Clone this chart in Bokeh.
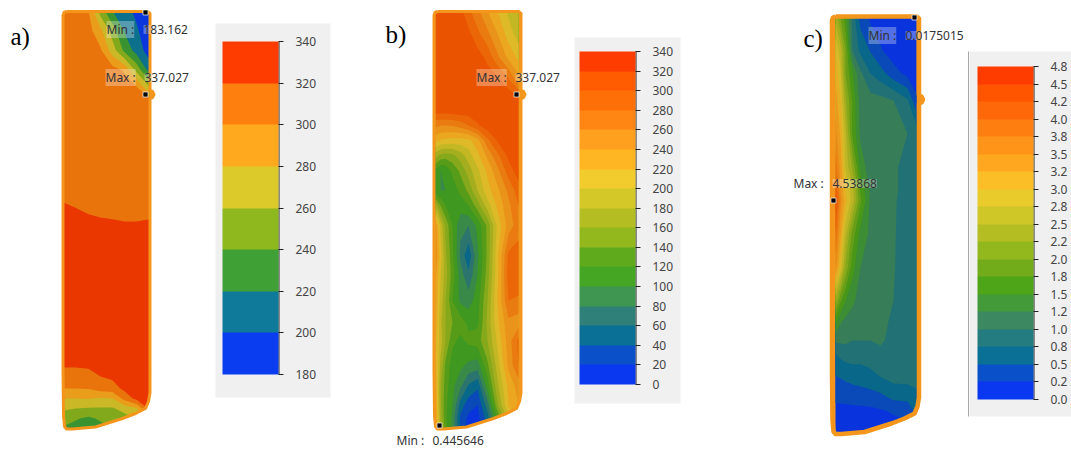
from bokeh.embed import file_html
from bokeh.resources import INLINE
from bokeh.plotting import figure
from bokeh.models import Range1d, ColorBar, LinearColorMapper, FixedTicker
from bokeh.core.properties import value
import numpy as np

# ---------- colour scales (low to high) ----------
PAL_A = ["#0A3CF0", "#0F7A9A", "#3FA035", "#8EB81E", "#DCC92A", "#FFAA1E", "#FF7F0E", "#FF3C00"]
PAL_B = ["#0A38F0", "#0A50C8", "#0A7095", "#2F8078", "#3F9650", "#45A623", "#5FAA1C", "#92B81E", "#B4BE22",
         "#D4C828", "#F2CB2C", "#FFB622", "#FFA01E", "#FF8612", "#FF6F08", "#FF5B00", "#FF3C00"]
PAL_C = ["#0A38F0", "#0A50C8", "#0A7095", "#257C80", "#3C8860", "#429A38", "#4FA518", "#72AC1A", "#92B81E",
         "#B4BE22", "#CFC628", "#EACB2C", "#FBBE26", "#FFA81F", "#FF9418", "#FF7E10", "#FF6808", "#FF5400", "#FF3C00"]

# ---------- colour bar ticks ----------
TICKS_A = [180, 200, 220, 240, 260, 280, 300, 320, 340]
TICKS_B = list(range(0, 341, 20))
TICKS_C = [0, .25, .5, .75, 1, 1.25, 1.5, 1.75, 2, 2.25, 2.5, 2.75, 3, 3.25, 3.5, 3.75, 4, 4.25, 4.5, 4.75]
TICK_LABELS_C = ["0.0", "0.2", "0.5", "0.8", "1.0", "1.2", "1.5", "1.8", "2.0", "2.2",
                 "2.5", "2.8", "3.0", "3.2", "3.5", "3.8", "4.0", "4.2", "4.5", "4.8"]

# ---------- panel a) field ----------
A_X = [62, 75, 88, 100, 112, 124, 136, 149]
A_Y = [10, 30, 50, 70, 88, 100, 199, 226, 240, 355, 366, 376, 388, 398, 408, 418, 431]
A_Z = [
    [310, 310, 300, 250, 220, 208, 195, 183],
    [310, 310, 307, 285, 250, 218, 203, 185],
    [310, 310, 310, 303, 270, 235, 212, 190],
    [310, 310, 310, 310, 309, 298, 255, 212],
    [310, 310, 310, 310, 310, 310, 306, 265],
    [310, 310, 310, 310, 310, 310, 310, 310],
    [319, 316, 314, 312, 312, 311, 311, 312],
    [330, 329, 325, 324, 323, 322, 322, 323],
    [330, 330, 330, 330, 330, 330, 330, 330],
    [330, 330, 330, 330, 330, 330, 330, 330],
    [321, 321, 322, 325, 327, 328, 329, 330],
    [311, 311, 313, 320, 324, 326, 328, 330],
    [300, 300, 301, 308, 311, 325, 328, 330],
    [280, 280, 281, 278, 280, 307, 326, 329],
    [263, 260, 258, 258, 258, 267, 278, 325],
    [249, 242, 236, 243, 248, 252, 260, 290],
    [235, 230, 228, 230, 238, 245, 250, 260],
]

# ---------- panel b) field ----------
B_X = [435, 440, 445, 452, 460, 468, 477, 487, 497, 508, 518]
B_Y = [10, 33, 57, 80, 95, 100, 113, 125, 140, 155, 170, 190, 205, 225, 255, 275, 300, 322, 340, 365, 385, 405, 418, 432]
B_Z = [
    [310, 310, 310, 310, 305, 285, 265, 240, 220, 195, 182],
    [310, 310, 310, 310, 310, 305, 285, 265, 240, 210, 190],
    [310, 310, 310, 310, 310, 310, 310, 295, 265, 235, 215],
    [310, 310, 310, 310, 310, 310, 310, 310, 308, 285, 250],
    [310, 310, 310, 310, 310, 310, 310, 310, 310, 310, 300],
    [310, 310, 310, 310, 310, 310, 310, 310, 310, 310, 310],
    [300, 300, 300, 302, 305, 305, 310, 310, 310, 310, 310],
    [265, 260, 260, 262, 268, 280, 297, 312, 312, 312, 312],
    [225, 218, 215, 213, 212, 214, 232, 275, 302, 312, 312],
    [170, 155, 150, 155, 170, 190, 215, 245, 275, 305, 312],
    [115, 100, 105, 125, 145, 170, 195, 225, 255, 290, 310],
    [105, 100, 100, 110, 125, 145, 180, 212, 235, 265, 290],
    [170, 140, 120, 115, 110, 120, 150, 190, 225, 255, 280],
    [250, 195, 155, 120, 85, 80, 105, 145, 205, 250, 270],
    [260, 210, 165, 125, 75, 45, 95, 145, 215, 285, 290],
    [245, 200, 170, 130, 90, 65, 100, 150, 215, 290, 300],
    [235, 195, 160, 120, 95, 90, 110, 160, 220, 280, 275],
    [235, 185, 160, 140, 130, 115, 115, 165, 215, 255, 250],
    [225, 190, 160, 125, 115, 125, 130, 160, 205, 250, 285],
    [230, 175, 135, 110, 105, 95, 90, 135, 190, 245, 280],
    [235, 165, 130, 105, 85, 58, 45, 110, 175, 225, 250],
    [240, 165, 125, 100, 50, 28, 20, 70, 155, 220, 240],
    [245, 170, 125, 95, 35, 15, 12, 50, 120, 190, 230],
    [250, 180, 130, 95, 40, 8, 8, 30, 100, 170, 220],
]

# ---------- panel c) field ----------
C_X = [835, 840, 845, 852, 860, 870, 880, 893, 907, 916]
C_Y = [17, 50, 73, 100, 133, 167, 190, 200, 233, 267, 300, 320, 340, 355, 375, 395, 410, 438]
C_Z = [
    [2.4, 2.0, 1.6, 0.9, 0.4, 0.2, 0.1, 0.05, 0.02, 0.02],
    [3.0, 2.6, 2.0, 1.0, 0.68, 0.48, 0.28, 0.12, 0.05, 0.02],
    [3.2, 2.8, 2.0, 1.5, 1.05, 0.75, 0.6, 0.35, 0.18, 0.08],
    [3.4, 3.0, 2.3, 1.7, 1.15, 1.1, 1.08, 1.0, 0.78, 0.3],
    [3.6, 3.2, 2.6, 1.7, 1.2, 1.1, 1.1, 1.1, 1.0, 0.9],
    [3.9, 3.4, 2.7, 2.2, 1.4, 1.1, 1.1, 1.05, 0.9, 0.9],
    [4.2, 3.5, 3.0, 2.6, 1.7, 1.2, 1.1, 1.05, 0.9, 0.85],
    [4.4, 3.6, 3.1, 2.6, 1.8, 1.2, 1.1, 1.03, 0.9, 0.85],
    [4.0, 3.3, 2.6, 1.9, 1.4, 1.2, 1.1, 1.03, 0.85, 0.85],
    [3.6, 2.9, 2.2, 1.6, 1.25, 1.1, 1.05, 1.02, 0.85, 0.85],
    [2.3, 1.8, 1.5, 1.3, 1.15, 1.1, 1.05, 1.0, 0.85, 0.85],
    [1.6, 1.3, 1.2, 1.15, 1.1, 1.05, 1.05, 0.97, 0.85, 0.85],
    [1.05, 1.05, 1.05, 1.0, 1.0, 1.0, 1.05, 0.9, 0.85, 0.85],
    [0.72, 0.8, 0.85, 0.88, 0.85, 0.88, 0.9, 0.9, 0.85, 0.85],
    [0.5, 0.52, 0.55, 0.58, 0.62, 0.68, 0.77, 0.85, 0.85, 0.85],
    [0.35, 0.37, 0.38, 0.4, 0.4, 0.42, 0.46, 0.6, 0.62, 0.7],
    [0.15, 0.15, 0.15, 0.17, 0.18, 0.2, 0.23, 0.28, 0.32, 0.6],
    [0.05, 0.05, 0.05, 0.05, 0.05, 0.05, 0.08, 0.1, 0.12, 0.2],
]

# ---------- part outline, drawn for each panel ----------
OUT_AB_X = [66, 147, 149.5, 149.5, 152, 153.5, 152, 149.5, 149.5, 148, 145, 135, 122, 95, 72, 66, 64, 63, 62.5, 62.5, 63.5, 66]
OUT_AB_Y = [11, 11, 13, 90, 91, 94, 97, 98, 392, 401, 408, 413, 418, 426.5, 428.5, 428.5, 426, 415, 370, 15, 12, 11]
OUT_C_X = [x + 769 for x in OUT_AB_X]
OUT_C_Y = [y + 5 for y in OUT_AB_Y]
OUT_B_X = [x + 371 for x in OUT_AB_X]
OUT_B_Y = OUT_AB_Y

p = figure(width=1071, height=449, output_backend="svg", toolbar_location=None,
           x_range=Range1d(0, 1071), y_range=Range1d(449, 0),
           x_axis_type=None, y_axis_type=None, min_border=0,
           background_fill_color="white", border_fill_color="white", outline_line_color=None)


def darken(pal, f=0.92):
    out = []
    for c in pal:
        r, g, b = int(c[1:3], 16), int(c[3:5], 16), int(c[5:7], 16)
        out.append("#%02X%02X%02X" % (int(r * f), int(g * f), int(b * f)))
    return out


OUTLINE = "#F4961C"


def panel(xs, ys, zs, levels, pal, ox, oy, width):
    p.patch(ox, oy, fill_color=OUTLINE, line_color=None)
    X, Y = np.meshgrid(xs, ys)
    Z = np.array(zs, dtype=float)
    # painted from the lowest level up, each band covering everything above it, so no seams show
    for low, colour in zip(levels[:-1], darken(pal)):
        p.contour(X, Y, Z, [low, levels[-1]], fill_color=[colour])
    x0, x1, y0, y1 = xs[0] - 5, xs[-1] + 5, ys[0] - 4, ys[-1] + 5
    p.multi_polygons(xs=[[[[x0, x1, x1, x0], list(ox)]]], ys=[[[[y0, y0, y1, y1], list(oy)]]],
                     fill_color="white", line_color=None)
    p.line(ox, oy, line_color=OUTLINE, line_width=width, line_join="round")


panel(A_X, A_Y, A_Z, TICKS_A, PAL_A, OUT_AB_X, OUT_AB_Y, 3)
panel(B_X, B_Y, B_Z, TICKS_B, PAL_B, OUT_B_X, OUT_B_Y, 3)
panel(C_X, C_Y, C_Z, TICKS_C, PAL_C, OUT_C_X, OUT_C_Y, 4.5)

# colour bar panels
BG_L, BG_R, BG_T, BG_B = [215, 574, 969], [330, 680, 1071], [23, 37, 51], [397, 403, 416]
p.quad(left=BG_L, right=BG_R, top=BG_T, bottom=BG_B, fill_color="#F0F0F0", line_color=None)
p.segment(x0=[968], x1=[968], y0=[51], y1=[416], line_color="#A8A8A8", line_width=1)


def bar(pal, ticks, overrides, left, top, bottom):
    mapper = LinearColorMapper(palette=pal, low=ticks[0], high=ticks[-1])
    cb = ColorBar(color_mapper=mapper, ticker=FixedTicker(ticks=ticks), major_label_overrides=overrides,
                  width=56, height=bottom - top, location=(left, 449 - bottom),
                  padding=0, margin=0, background_fill_alpha=0, border_line_color=None,
                  bar_line_color=None, major_tick_line_color="#222222", major_tick_line_width=1,
                  major_tick_in=0, major_tick_out=5, minor_tick_line_color=None, label_standoff=12,
                  major_label_text_font="Noto Sans", major_label_text_font_size="12px",
                  major_label_text_color="#444444", major_label_text_baseline="middle")
    p.add_layout(cb, "center")
    p.segment(x0=[left + 56.5], x1=[left + 56.5], y0=[top], y1=[bottom], line_color="#222222", line_width=1)


bar(PAL_A, TICKS_A, {}, 222, 41, 374)
bar(PAL_B, TICKS_B, {}, 579, 51, 384)
bar(PAL_C, TICKS_C, dict(zip(TICKS_C, TICK_LABELS_C)), 977, 66, 399)

# min / max markers
MARK_X = [145, 145, 516, 439, 914, 833]
MARK_Y = [12, 94, 94, 425, 17, 200]
p.scatter(MARK_X, MARK_Y, marker="square", size=5, fill_color="black", line_color="white", line_width=0.7)

# panel letters
p.text([10, 385, 803], [36, 34, 38], text=["a)", "b)", "c)"], text_font=value("Liberation Serif"),
       text_font_size="25px", text_color="black", text_baseline="middle")

# min / max read-outs
NOTE_X = [106, 143, 105, 144, 476, 515, 868, 905, 793, 832, 396, 432]
NOTE_Y = [29, 29, 77, 77, 77, 77, 35, 35, 183, 183, 440, 440]
NOTE_T = ["Min :", "183.162", "Max :", "337.027", "Max :", "337.027", "Min :", "0.0175015",
          "Max :", "4.53868", "Min :", "0.445646"]
p.text(NOTE_X, NOTE_Y, text=NOTE_T, text_font=value("Noto Sans"), text_font_size="12px",
       text_color="#333333", text_baseline="middle", background_fill_color="white", background_fill_alpha=0.3)

open("out.html", "w").write(file_html(p, INLINE))
